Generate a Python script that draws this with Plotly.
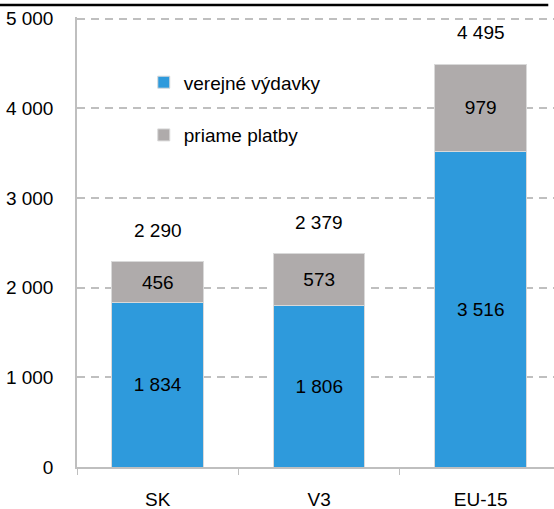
import plotly.graph_objects as go

# data
categories = ["SK", "V3", "EU-15"]
verejne = [1834, 1806, 3516]
priame = [456, 573, 979]
totals = [2290, 2379, 4495]
ytick_vals = [0, 1000, 2000, 3000, 4000, 5000]

FONT = "Liberation Sans, Arial, sans-serif"
BLUE = "#2E9ADC"
GREY = "#AFABAB"
AXIS = "#BFBFBF"
FS = 19


def fmt(v):
    return f"{v:,}".replace(",", " ")


fig = go.Figure()

fig.add_trace(go.Bar(
    x=categories,
    y=verejne,
    name="verejné výdavky",
    legendgroup="a",
    marker=dict(color=BLUE, line=dict(color="#D9D9D9", width=1)),
    text=[fmt(v) for v in verejne],
    textposition="inside",
    insidetextanchor="middle",
    textangle=0,
    textfont=dict(color="black", size=FS, family=FONT),
    width=0.567,
))

fig.add_trace(go.Bar(
    x=categories,
    y=priame,
    name="priame platby",
    legendgroup="b",
    marker=dict(color=GREY, line=dict(color="#D9D9D9", width=1)),
    text=[fmt(v) for v in priame],
    textposition="inside",
    insidetextanchor="middle",
    textangle=0,
    textfont=dict(color="black", size=FS, family=FONT),
    width=0.567,
))

# totals above the bars
for c, t in zip(categories, totals):
    fig.add_annotation(
        x=c, y=t, text=fmt(t),
        showarrow=False, yanchor="bottom", yshift=19,
        font=dict(size=FS, color="black", family=FONT),
    )

# black rule across the top
fig.add_shape(
    type="line", xref="paper", yref="paper",
    x0=-0.162, x1=0.988, y0=1.0267, y1=1.0267,
    line=dict(color="black", width=2.5),
)

fig.update_layout(
    width=554,
    height=509,
    barmode="stack",
    plot_bgcolor="white",
    paper_bgcolor="white",
    margin=dict(l=77, r=0, t=17, b=42),
    font=dict(family=FONT, size=FS, color="black"),
    showlegend=True,
    legend=dict(
        x=0.14, y=0.897, xanchor="left", yanchor="top",
        traceorder="grouped", tracegroupgap=25,
        bgcolor="rgba(0,0,0,0)",
        font=dict(size=FS, family=FONT),
    ),
    xaxis=dict(
        range=[-0.5, 2.454],
        automargin=False,
        showline=True, linecolor=AXIS, linewidth=1.5,
        ticks="outside", tickson="boundaries", ticklen=6, tickcolor=AXIS,
        ticklabelstandoff=14,
        showgrid=False,
    ),
    yaxis=dict(
        # a little headroom above 5000 so the top gridline is drawn
        range=[0, 5020],
        automargin=False,
        tickvals=ytick_vals,
        ticktext=[fmt(v) for v in ytick_vals],
        showline=True, linecolor=AXIS, linewidth=1.5,
        showgrid=True, gridcolor=AXIS, gridwidth=1.5, griddash="8px,6px",
        zeroline=False,
        ticks="", ticklabelstandoff=18,
    ),
)

# drop the page's default body margin so the figure sits at the window corner
fig.write_html(
    "out.html",
    config={"displayModeBar": False},
    post_script="document.body.style.margin='0';",
)
